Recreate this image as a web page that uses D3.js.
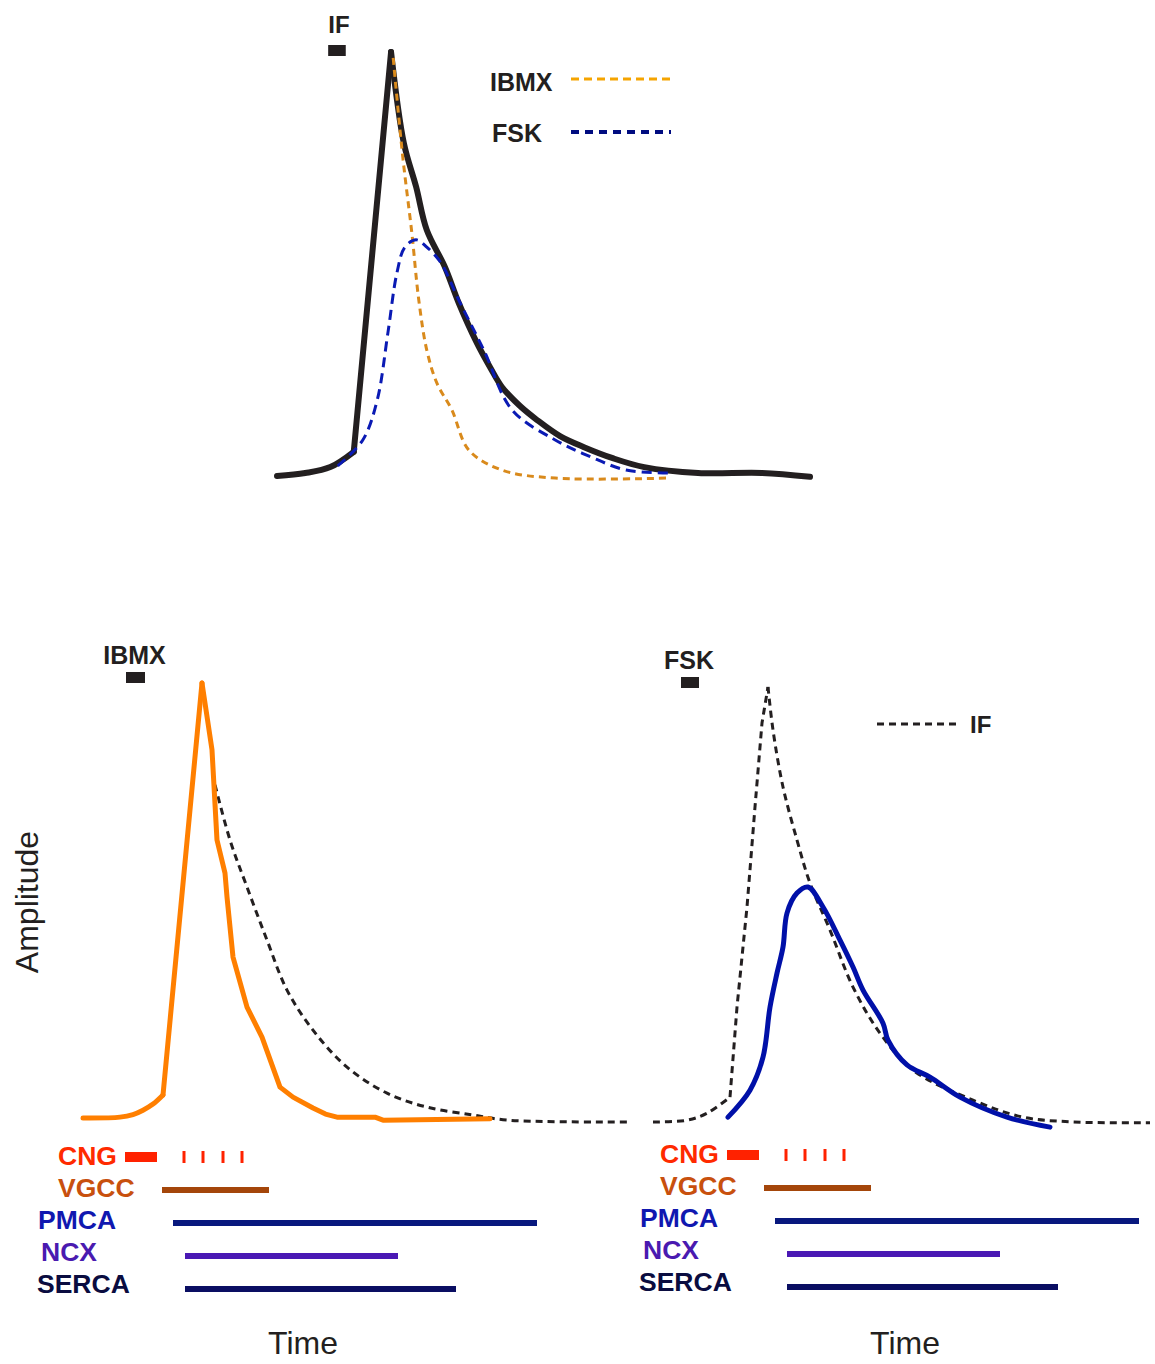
<!DOCTYPE html>
<html>
<head>
<meta charset="utf-8">
<script src="https://cdn.jsdelivr.net/npm/d3@7"></script>
<style>
	body { margin: 0; background: #fff; }
	text { font-family: Arial, "Liberation Sans", sans-serif; }
</style>
</head>
<body>
<div id="chart"></div>
<script>
// time (arbitrary units), amplitude (% of IF peak)
var topIF = [[0,0],[5.3,0.7],[10,2.1],[14.4,5.7],[21.4,100],[23.8,78.5],[26.1,68.2],[28.1,58],[31.5,49.3],[34.1,40.8],[37.5,31.4],[40,25.6],[42.2,21],[45.6,16.5],[48.8,13.2],[53.1,9.4],[57.6,6.8],[63,4.2],[68.9,2.1],[79,0.7],[91,0.7],[100,-0.2]];
var topIBMX = [[21.8,98.6],[23.6,75.2],[25.3,57.3],[26.6,41.5],[28.1,29.7],[30,21.9],[32.8,15.6],[36,6.1],[42.2,1.4],[52.2,-0.5],[73,-0.5]];
var topFSK = [[11.4,2.4],[16.1,8.5],[18.8,17.9],[20.8,33.7],[22.5,47.9],[24,54],[26.1,55.7],[28.1,54],[30.8,50.2],[34.1,41.5],[38.8,29.7],[44.1,15.6],[52.2,8.5],[58.9,4.5],[65.5,1.4],[73.7,0.7]];

var ibmxTrace = [[0,0],[7.4,0.2],[10,0.8],[12,1.8],[14,3.2],[16,5.3],[23.8,100],[25.8,84.6],[26.8,63.9],[28.4,56.3],[28.8,50.8],[30,37],[32.8,25.5],[35.8,18.6],[39.4,7.1],[42,4.8],[46,2.3],[48.5,0.9],[50.8,0.2],[58.4,0.2],[60,-0.5],[81.4,-0.2]];
var ibmxIF = [[26.4,76.6],[29.4,63.9],[32.8,53.1],[36.8,40.9],[40.8,29.4],[46,20.2],[52.8,11.7],[60.8,5.7],[68.8,2.5],[78,0.7],[85,-0.5],[109.4,-0.9]];

var fskIF = [[-6.4,-0.9],[0.4,-0.5],[4.4,1.1],[9,4.8],[10.4,25.5],[12.4,48.5],[14,71.5],[15.4,90.8],[16.6,99.1],[17.6,89.2],[19.6,76.1],[22.4,63.9],[25,54],[29,43.2],[33.6,30.1],[39,19.5],[45.6,11],[57.6,4.1],[67.6,0.2],[77.6,-0.9],[93,-1.1]];
var fskTrace = [[8.6,0.2],[13,6.4],[15.6,14],[17,25.5],[18.4,33.3],[19.6,39.3],[20.4,47.1],[22.4,51.7],[24.6,53.1],[27.6,48.5],[31,40.9],[33.6,34.7],[35.6,29.4],[39.6,21.8],[40.6,17.9],[44.4,12.2],[49,9.4],[55,4.8],[64.4,0.2],[73,-2.1]];

// activity windows of each Ca2+ pathway (time units)
var channels = ['CNG', 'VGCC', 'PMCA', 'NCX', 'SERCA'];
var channelOn = [8.4, 15.8, 18, 20.4, 20.4];
var channelOff = [14.8, 37.2, 90.8, 63, 74.6];
var cngFlicker = [20.2, 24, 28, 31.8];

// drug application bars
var stimTop = [9.6, 12.9];
var stimIBMX = [8.6, 12.4];
var stimFSK = [-0.8, 2.8];

var ink = '#231f20';
var textColor = {CNG: '#ff2a00', VGCC: '#c8500e', PMCA: '#1018b0', NCX: '#4a1ab0', SERCA: '#0a0c40'};
var barColor = {CNG: '#ff2200', VGCC: '#a4460a', PMCA: '#08187e', NCX: '#4a18b4', SERCA: '#0a0e62'};
var labelX = {CNG: 58, VGCC: 58, PMCA: 38, NCX: 41, SERCA: 37};

var svg = d3.select('#chart').append('svg')
	.attr('width', 1155)
	.attr('height', 1364);

svg.append('rect').attr('width', 1155).attr('height', 1364).attr('fill', '#fff');

var smooth = d3.curveCatmullRom.alpha(0.5);

function drawLine(x, y, data, color, width, dash, curve) {
	var line = d3.line()
		.x(function(d) { return x(d[0]); })
		.y(function(d) { return y(d[1]); })
		.curve(curve || smooth);
	svg.append('path')
		.datum(data)
		.attr('d', line)
		.attr('fill', 'none')
		.attr('stroke', color)
		.attr('stroke-width', width)
		.attr('stroke-linejoin', 'round')
		.attr('stroke-linecap', dash ? 'butt' : 'round')
		.attr('stroke-dasharray', dash || null);
}

// smooth foot, straight rise up to the peak, then the decay
function drawTrace(x, y, data, color, width, dash, decayCurve) {
	var peak = d3.maxIndex(data, function(d) { return d[1]; });
	var knee = 0, best = -Infinity;
	for (var i = 0; i < peak; i++) {
		var s = (data[i + 1][1] - data[i][1]) / (data[i + 1][0] - data[i][0]);
		if (s > best) { best = s; knee = i; }
	}
	if (knee > 0) drawLine(x, y, data.slice(0, knee + 1), color, width, dash, smooth);
	drawLine(x, y, data.slice(knee, peak + 1), color, width, dash, d3.curveLinear);
	drawLine(x, y, data.slice(peak), color, width, dash, decayCurve || smooth);
}

function label(x, y, txt, size, weight, color, anchor) {
	return svg.append('text')
		.attr('x', x).attr('y', y)
		.attr('font-size', size)
		.attr('font-weight', weight)
		.attr('fill', color)
		.attr('text-anchor', anchor || 'start')
		.text(txt);
}

// ---- top panel
var xTop = d3.scaleLinear().domain([0, 100]).range([277, 810]);
var yTop = d3.scaleLinear().domain([0, 100]).range([476, 52]);

drawTrace(xTop, yTop, topIF, ink, 6);
drawLine(xTop, yTop, topIBMX, '#d98a1c', 3, '7,5');
drawLine(xTop, yTop, topFSK, '#0a1ab4', 3, '10,6');

svg.append('rect')
	.attr('x', xTop(stimTop[0])).attr('y', 45)
	.attr('width', xTop(stimTop[1]) - xTop(stimTop[0])).attr('height', 11)
	.attr('fill', ink);
label(339, 33, 'IF', 24, 'bold', ink, 'middle');

// legend
label(490, 91, 'IBMX', 25, 'bold', ink);
svg.append('line').attr('x1', 571).attr('x2', 671).attr('y1', 79).attr('y2', 79)
	.attr('stroke', '#f5a400').attr('stroke-width', 3).attr('stroke-dasharray', '8,5');
label(492, 142, 'FSK', 25, 'bold', ink);
svg.append('line').attr('x1', 571).attr('x2', 671).attr('y1', 132).attr('y2', 132)
	.attr('stroke', '#000c80').attr('stroke-width', 4).attr('stroke-dasharray', '8,6');

// ---- bottom panels
var yBot = d3.scaleLinear().domain([0, 100]).range([1118, 683]);
var yRow = d3.scalePoint().domain(channels).range([1157, 1289]);
var yRowLabel = d3.scalePoint().domain(channels).range([1156, 1284]);

var panels = [
	{name: 'IBMX', x0: 83, trace: ibmxTrace, ifTrace: ibmxIF, color: '#ff7f00', stim: stimIBMX},
	{name: 'FSK', x0: 685, trace: fskTrace, ifTrace: fskIF, color: '#0010a8', stim: stimFSK}
];

panels.forEach(function(p, pi) {
	var x = d3.scaleLinear().domain([0, 100]).range([p.x0, p.x0 + 500]);
	var dy = pi === 0 ? 0 : -2;

	if (pi === 0) {
		drawLine(x, yBot, p.ifTrace, ink, 3, '7,5');
		drawTrace(x, yBot, p.trace, p.color, 5, null, d3.curveLinear);
	} else {
		drawTrace(x, yBot, p.ifTrace, ink, 3, '7,5');
		drawLine(x, yBot, p.trace, p.color, 5);
	}

	// application bar
	var sy = pi === 0 ? 672 : 677;
	svg.append('rect')
		.attr('x', x(p.stim[0])).attr('y', sy)
		.attr('width', x(p.stim[1]) - x(p.stim[0])).attr('height', 11)
		.attr('fill', ink);
	label((x(p.stim[0]) + x(p.stim[1])) / 2 - 1, sy - 8, p.name, 25, 'bold', ink, 'middle');

	// pathway labels and activity bars
	var off = p.x0 - 83;
	channels.forEach(function(c, i) {
		var yy = yRow(c) + dy;
		label(labelX[c] + off, yRowLabel(c) + dy + 9, c, 26.5, 'bold', textColor[c]);
		var h = c === 'CNG' ? 10 : 6;
		svg.append('rect')
			.attr('x', x(channelOn[i])).attr('y', yy - h / 2)
			.attr('width', x(channelOff[i]) - x(channelOn[i])).attr('height', h)
			.attr('fill', barColor[c]);
	});
	svg.selectAll(null).data(cngFlicker).enter().append('rect')
		.attr('x', function(d) { return x(d) - 1.5; })
		.attr('y', yRow('CNG') + dy - 6)
		.attr('width', 3).attr('height', 12)
		.attr('fill', barColor.CNG);

	label(x(44), 1354, 'Time', 32, 'normal', ink, 'middle');
});

// IF legend in right panel
svg.append('line').attr('x1', 877).attr('x2', 961).attr('y1', 724).attr('y2', 724)
	.attr('stroke', ink).attr('stroke-width', 3).attr('stroke-dasharray', '7,5');
label(970, 733, 'IF', 24, 'bold', ink);

// y axis title
label(0, 0, 'Amplitude', 32, 'normal', ink, 'middle')
	.attr('transform', 'translate(38,902) rotate(-90)');
</script>
</body>
</html>
